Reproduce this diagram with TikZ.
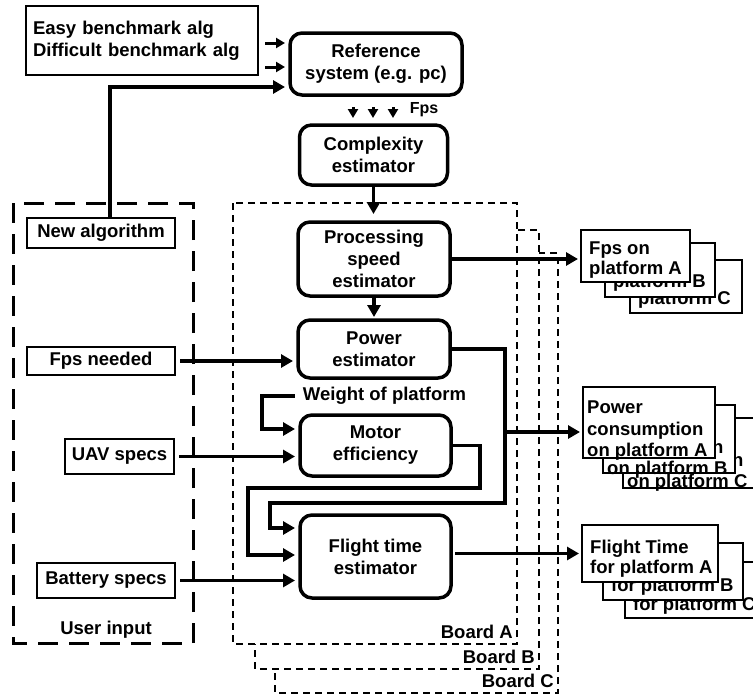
\documentclass[tikz,border=0pt]{standalone}
\usepackage{fontspec}
\setmainfont{Liberation Sans}
\usetikzlibrary{arrows.meta}
\begin{document}
\begin{tikzpicture}[x=1pt,y=-1pt,
  every node/.style={font=\bfseries\fontsize{18.5}{22}\selectfont},
  rbox/.style={draw, line width=3.5pt, rounded corners=12pt, fill=white, align=center, inner sep=0pt, outer sep=0pt},
  ibox/.style={draw, line width=2.6pt, fill=white, align=center, inner sep=0pt, outer sep=0pt},
  obox/.style={draw, line width=2.6pt, fill=white, inner sep=0pt, outer sep=0pt, anchor=north west},
  otext/.style={anchor=north west, align=left, inner sep=0pt, font=\bfseries\fontsize{18.5}{20}\selectfont},
  ptext/.style={otext, font=\bfseries\fontsize{18.5}{21.5}\selectfont},
  conn/.style={line width=3.5pt},
  arr/.style={conn, -{Triangle[length=12pt,width=13pt]}, shorten >=5pt},
  sarr/.style={line width=3pt, -{Triangle[length=9pt,width=10pt]}},
  board/.style={draw, line width=2.2pt, dash pattern=on 7pt off 5pt, fill=white},
  userbox/.style={draw, line width=3pt, dash pattern=on 20pt off 11pt},
]
\useasboundingbox (0,0) rectangle (753,696);
\clip (0,0) rectangle (753,696);

% boards
\path[board] (275,253) rectangle (558,693);
\path[board] (255,230) rectangle (539,669);
\path[board] (233,203) rectangle (517,644);
\node[anchor=east, inner sep=0pt] (lblA) at (513,632) {Board A};
\node[anchor=east, inner sep=0pt] (lblB) at (535,657) {Board B};
\node[anchor=east, inner sep=0pt] (lblC) at (554,681) {Board C};

% user input
\path[userbox] (13,203) rectangle (193,643);
\node (userlbl) at (106,630) {User input};

% main nodes
\node[ibox, minimum width=232pt, minimum height=69pt, align=left, text width=218pt] (bench) at (142,40.5) {Easy benchmark alg\\Difficult benchmark alg};
\node[rbox, minimum width=172pt, minimum height=62pt] (ref) at (376,64) {Reference\\system (e.g. pc)};
\node[rbox, minimum width=148pt, minimum height=60pt] (cplx) at (373.5,155) {Complexity\\estimator};
\node[rbox, minimum width=152pt, minimum height=74pt] (proc) at (374,259) {Processing\\speed\\estimator};
\node[rbox, minimum width=152pt, minimum height=58pt] (power) at (374,349) {Power\\estimator};
\node[inner sep=0pt] (weight) at (384.5,396) {Weight of platform};
\node[rbox, minimum width=151pt, minimum height=61pt] (motor) at (375.5,445.5) {Motor\\efficiency};
\node[rbox, minimum width=151pt, minimum height=83pt] (flight) at (375.5,556.5) {Flight time\\estimator};
\node[inner sep=0pt, font=\bfseries\fontsize{16}{18}\selectfont] (fpslbl) at (424,110) {Fps};

% inputs
\node[ibox, minimum width=148pt, minimum height=30pt] (newalg) at (101,233) {New algorithm};
\node[ibox, minimum width=148pt, minimum height=28pt] (fpsneed) at (101,361) {Fps needed};
\node[ibox, minimum width=109pt, minimum height=35pt] (uav) at (119.5,456.5) {UAV specs};
\node[ibox, minimum width=138pt, minimum height=35pt] (battery) at (106,580.5) {Battery specs};

% output stacks: fps
\node[obox, minimum width=112pt, minimum height=53pt] (fpsC) at (630,260) {};
\node[otext] (fpsCt) at ([xshift=8pt,yshift=-12pt]fpsC.north west) {Fps on\\platform C};
\node[obox, minimum width=110pt, minimum height=54pt] (fpsB) at (605,243) {};
\node[otext] (fpsBt) at ([xshift=8pt,yshift=-12pt]fpsB.north west) {Fps on\\platform B};
\node[obox, minimum width=109pt, minimum height=52pt] (fpsA) at (581,230) {};
\node[otext] (fpsAt) at ([xshift=8pt,yshift=-12pt]fpsA.north west) {Fps on\\platform A};

% output stacks: power
\node[obox, minimum width=140pt, minimum height=70pt] (powC) at (623,418) {};
\node[ptext] (powCt) at ([xshift=4pt,yshift=-14pt]powC.north west) {Power\\consumption\\on platform C};
\node[obox, minimum width=132pt, minimum height=68pt] (powB) at (603,405) {};
\node[ptext] (powBt) at ([xshift=4pt,yshift=-14pt]powB.north west) {Power\\consumption\\on platform B};
\node[obox, minimum width=132pt, minimum height=71pt] (powA) at (583,387) {};
\node[ptext] (powAt) at ([xshift=4pt,yshift=-14pt]powA.north west) {Power\\consumption\\on platform A};

% output stacks: flight
\node[obox, minimum width=140pt, minimum height=56pt] (flC) at (625,562) {};
\node[otext] (flCt) at ([xshift=8pt,yshift=-14.5pt]flC.north west) {Flight Time\\for platform C};
\node[obox, minimum width=140pt, minimum height=57pt] (flB) at (603,543) {};
\node[otext] (flBt) at ([xshift=8pt,yshift=-14.5pt]flB.north west) {Flight Time\\for platform B};
\node[obox, minimum width=136pt, minimum height=57pt] (flA) at (582,525) {};
\node[otext] (flAt) at ([xshift=8pt,yshift=-14.5pt]flA.north west) {Flight Time\\for platform A};

% helper coordinates
\coordinate (r1) at ([yshift=21pt]ref.west);
\coordinate (r2) at ([yshift=-3pt]ref.west);
\coordinate (r3) at ([yshift=-23pt]ref.west);
\coordinate (pc1) at (505,503);
\coordinate (pc2) at (270,528);
\coordinate (pj) at (505,432);
\coordinate (mc1) at (480,488);
\coordinate (mc2) at (248,555);
\coordinate (wc) at (262,429);

% connectors
\draw[sarr, shorten <=7pt, shorten >=5pt] (bench.east |- r1) -- (r1);
\draw[sarr, shorten <=7pt, shorten >=5pt] (bench.east |- r2) -- (r2);
\draw[arr] ([xshift=9pt]newalg.north) |- (r3);
\draw[sarr] ([xshift=-23pt,yshift=-12pt]ref.south) -- ++(0,11);
\draw[sarr] ([xshift=-3pt,yshift=-12pt]ref.south) -- ++(0,11);
\draw[sarr] ([xshift=17pt,yshift=-12pt]ref.south) -- ++(0,11);
\draw[arr, shorten >=8pt] (cplx.south) -- (cplx.south |- proc.north);
\draw[arr, shorten >=3pt] (proc.south) -- (power.north);
\draw[arr, shorten >=3pt] (proc.east) -- (proc.east -| fpsA.west);
\draw[arr, shorten <=5pt] (fpsneed.east) -- (fpsneed.east -| power.west);
\draw[arr, shorten <=5pt] (uav.east) -- (uav.east -| motor.west);
\draw[arr, shorten <=5pt] (battery.east) -- (battery.east -| flight.west);
\draw[arr] (power.east) -| (pc1) -| (pc2) -- (pc2 -| flight.west);
\draw[arr, shorten >=3pt] (pj) -- (pj -| powA.west);
\draw[arr] (motor.east) -| (mc1) -| (mc2) -- (mc2 -| flight.west);
\draw[arr] ([xshift=-8pt]weight.west) -| (wc) -- (wc -| motor.west);
\draw[arr, shorten <=4pt, shorten >=3pt] (flight.east |- flA.west) -- (flA.west);
\end{tikzpicture}
\end{document}
